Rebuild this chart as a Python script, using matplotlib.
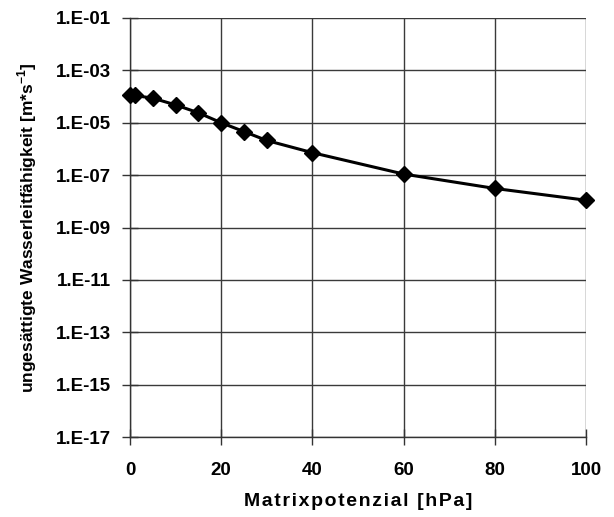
import math
import matplotlib
matplotlib.use("Agg")
import matplotlib.pyplot as plt
from matplotlib.ticker import FixedLocator, FuncFormatter, NullLocator

# Matrix potential [hPa] and unsaturated hydraulic conductivity [m/s]
potential = [0, 1, 5, 10, 15, 20, 25, 30, 40, 60, 80, 100]
conductivity = [1.15e-4, 1.1e-4, 8.7e-5, 4.8e-5, 2.4e-5, 1.0e-5,
                4.6e-6, 2.1e-6, 7.2e-7, 1.1e-7, 3.1e-8, 1.1e-8]

y_ticks = [1e-17, 1e-15, 1e-13, 1e-11, 1e-9, 1e-7, 1e-5, 1e-3, 1e-1]
x_ticks = [0, 20, 40, 60, 80, 100]

plt.rcParams['font.family'] = ['Liberation Sans', 'DejaVu Sans']
plt.rcParams['mathtext.fontset'] = 'custom'
plt.rcParams['mathtext.rm'] = 'Liberation Sans:bold'
plt.rcParams['mathtext.bf'] = 'Liberation Sans:bold'

fig = plt.figure(figsize=(6.14, 5.17), dpi=100)
ax = fig.add_axes([130 / 614, 1 - 437 / 517, 456 / 614, 419 / 517])

ax.set_yscale('log')
ax.set_xlim(0, 100)
ax.set_ylim(1e-17, 1e-1)

ax.plot(potential, conductivity, color='black', lw=2.2, marker='D',
        markersize=8.5, markerfacecolor='black', markeredgecolor='black',
        clip_on=False, zorder=3)

ax.yaxis.set_major_locator(FixedLocator(y_ticks))
ax.yaxis.set_minor_locator(NullLocator())
ax.xaxis.set_major_locator(FixedLocator(x_ticks))


def sci_fmt(v, pos):
    exp = int(round(math.log10(v)))
    return "1.E%s%02d" % ('-' if exp < 0 else '+', abs(exp))


ax.yaxis.set_major_formatter(FuncFormatter(sci_fmt))
ax.grid(True, color='#3a3a3a', lw=1.0)
ax.set_axisbelow(True)

for s in ['top', 'right']:
    ax.spines[s].set_visible(False)
for s in ['left', 'bottom']:
    ax.spines[s].set_color('#333333')
    ax.spines[s].set_linewidth(1.0)

ax.tick_params(axis='both', direction='inout', length=12, width=1,
               color='#333333', labelsize=13.5)
ax.tick_params(axis='y', pad=8)
ax.tick_params(axis='x', pad=12)
for lbl in ax.get_xticklabels() + ax.get_yticklabels():
    lbl.set_fontweight('bold')

# letter-spaced axis title
xtitle = '\u200a'.join('Matrixpotenzial [hPa]')
ax.set_xlabel(xtitle, fontsize=14, fontweight='bold', labelpad=10)
ax.set_ylabel('ungesättigte Wasserleitfähigkeit [m*s$^{-1}$]',
              fontsize=12.5, fontweight='bold', labelpad=12)

fig.savefig('out.png', dpi=100)
